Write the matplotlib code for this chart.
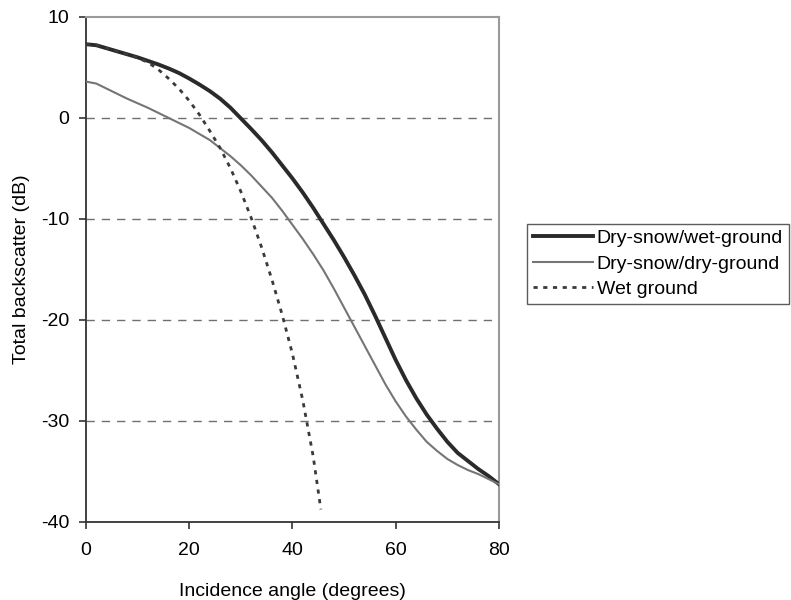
import matplotlib
matplotlib.use("Agg")
import matplotlib.pyplot as plt

plt.rcParams["font.family"] = ["Liberation Sans", "DejaVu Sans"]
plt.rcParams["axes.unicode_minus"] = False

# incidence angle grid (degrees) for the two snow curves
ANGLES = [0, 2, 4, 6, 8, 10, 12, 14, 16, 18, 20, 22, 24, 26, 28, 30, 32, 34, 36, 38,
          40, 42, 44, 46, 48, 50, 52, 54, 56, 58, 60, 62, 64, 66, 68, 70, 72, 74, 76, 78, 80]

SNOW_WET_GROUND = [7.3, 7.2, 6.9, 6.6, 6.3, 6.0, 5.65, 5.3, 4.9, 4.45, 3.9, 3.3, 2.65, 1.9,
                   1.0, -0.05, -1.1, -2.2, -3.4, -4.7, -6.0, -7.4, -8.9, -10.5, -12.1,
                   -13.8, -15.6, -17.5, -19.6, -21.8, -24.0, -26.0, -27.8, -29.4, -30.8,
                   -32.1, -33.2, -34.0, -34.8, -35.5, -36.3]

SNOW_DRY_GROUND = [3.6, 3.4, 2.9, 2.4, 1.9, 1.45, 1.0, 0.5, 0.0, -0.5, -1.0, -1.6, -2.2,
                   -3.0, -3.8, -4.7, -5.7, -6.8, -7.9, -9.2, -10.6, -12.0, -13.5, -15.1,
                   -16.9, -18.8, -20.7, -22.6, -24.5, -26.4, -28.1, -29.6, -30.9, -32.1,
                   -33.0, -33.8, -34.4, -34.9, -35.3, -35.8, -36.3]

# wet ground alone drops off much faster and stops near 45 deg
WET_ANGLES = [0, 2, 4, 6, 8, 10, 12, 14, 16, 18, 20, 22, 24, 26, 28, 30, 32, 34, 36, 38,
              40, 42, 44, 45.5]
WET_GROUND = [7.3, 7.2, 6.9, 6.6, 6.3, 5.95, 5.5, 4.8, 3.9, 2.9, 1.7, 0.3, -1.3, -3.0,
              -5.0, -7.3, -9.9, -12.8, -16.0, -19.5, -23.4, -28.0, -33.5, -38.8]

X_TICKS = [0, 20, 40, 60, 80]
Y_TICKS = [10, 0, -10, -20, -30, -40]
GRID_LEVELS = [0, -10, -20, -30]

FS = 14

fig = plt.figure(figsize=(7.91, 6.0), dpi=100)
ax = fig.add_axes([0.1087, 0.1308, 0.5221, 0.8409])

for lvl in GRID_LEVELS:
    ax.axhline(lvl, color="#707070", lw=1.0, ls=(0, (6, 5)), zorder=1)

ax.plot(ANGLES, SNOW_WET_GROUND, color="#2a2a2a", lw=2.8, label="Dry-snow/wet-ground", zorder=3)
ax.plot(ANGLES, SNOW_DRY_GROUND, color="#757575", lw=1.5, label="Dry-snow/dry-ground", zorder=3)
ax.plot(WET_ANGLES, WET_GROUND, color="#3a3a3a", lw=2.0, ls=(0, (1.5, 2)),
        label="Wet ground", zorder=3)

ax.set_xlim(0, 80)
ax.set_ylim(-40, 10)
ax.set_xticks(X_TICKS)
ax.set_yticks(Y_TICKS)
ax.tick_params(labelsize=FS, length=5, width=1.2, color="#333333")
ax.tick_params(axis="x", pad=10)
ax.tick_params(axis="y", pad=7)

for side in ("left", "bottom"):
    ax.spines[side].set_color("#333333")
    ax.spines[side].set_linewidth(1.3)
for side in ("top", "right"):
    ax.spines[side].set_color("#9a9a9a")
    ax.spines[side].set_linewidth(1.5)

ax.set_xlabel("Incidence angle (degrees)", fontsize=FS, labelpad=17)
ax.set_ylabel("Total backscatter (dB)", fontsize=FS, labelpad=8)

leg = fig.legend(loc="upper left", bbox_to_anchor=(0.666, 0.627), fontsize=FS,
                 frameon=True, fancybox=False, handlelength=3.1, handletextpad=0.2,
                 borderpad=0.3, labelspacing=0.4, borderaxespad=0)
leg.get_frame().set_edgecolor("#333333")
leg.get_frame().set_linewidth(1.0)

fig.savefig("out.png", dpi=100)
